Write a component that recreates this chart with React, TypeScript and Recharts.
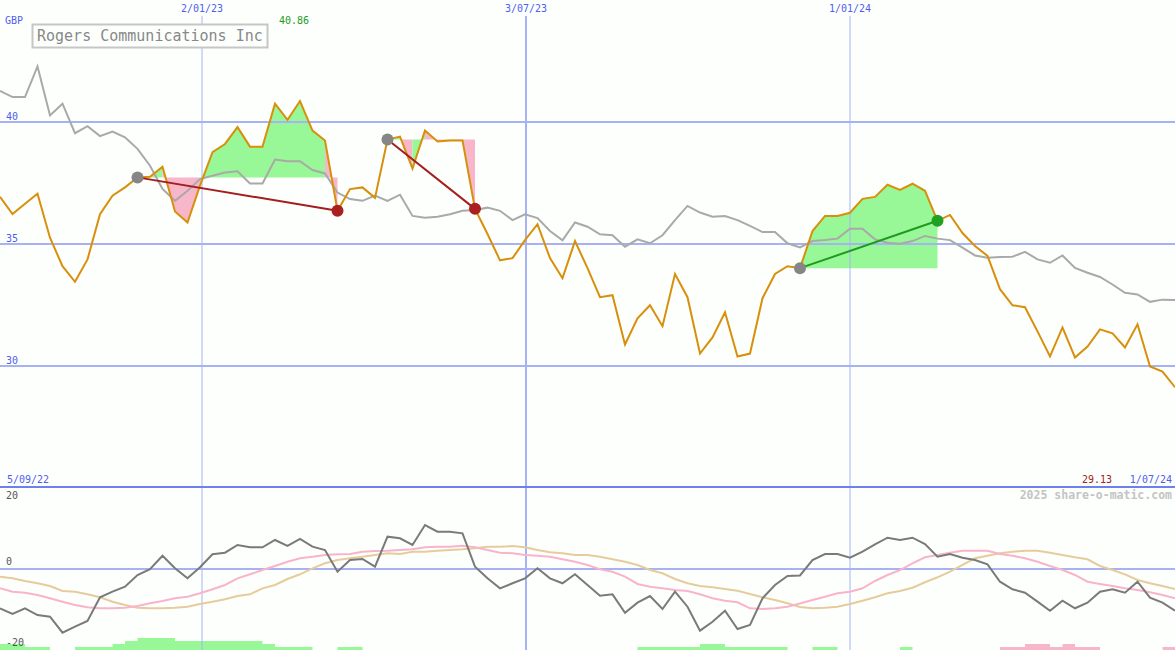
import React from "react";
import { Area, ComposedChart, Line, ReferenceDot, ReferenceLine, XAxis, YAxis } from "recharts";

// weekly closes, 5/09/22 .. 1/07/24
const price = [
  36.93, 36.23, 36.65, 37.06, 35.26, 34.09, 33.45, 34.37, 36.22, 36.98,
  37.32, 37.73, 37.76, 38.17, 36.33, 35.88, 37.39, 38.76, 39.1, 39.79,
  38.99, 38.99, 40.75, 40.09, 40.86, 39.65, 39.24, 36.36, 37.25, 37.32,
  36.89, 39.28, 39.4, 38.09, 39.65, 39.2, 39.24, 39.24, 36.44, 35.41,
  34.33, 34.42, 35.16, 35.81, 34.42, 33.6, 35.12, 34.01, 32.82, 32.9,
  30.88, 31.95, 32.49, 31.63, 33.77, 32.82, 30.51, 31.17, 32.2, 30.39,
  30.51, 32.78, 33.77, 34.09, 34.01, 35.53, 36.15, 36.15, 36.28, 36.85,
  36.93, 37.43, 37.22, 37.47, 37.18, 35.95, 36.19, 35.45, 34.92, 34.51,
  33.15, 32.49, 32.41, 31.42, 30.39, 31.58, 30.35, 30.8, 31.5, 31.34,
  30.76, 31.71, 29.98, 29.77, 29.13,
];

// relative-strength line (grey)
const relative = [
  41.27, 41.02, 41.02, 42.28, 40.27, 40.75, 39.54, 39.83, 39.42, 39.61,
  39.37, 38.9, 38.21, 37.26, 36.77, 37.18, 37.66, 37.8, 37.93, 37.98,
  37.48, 37.48, 38.46, 38.39, 38.39, 38.03, 37.89, 37.11, 36.84, 36.77,
  36.98, 36.77, 37.02, 36.15, 36.08, 36.12, 36.22, 36.36, 36.39, 36.49,
  36.36, 35.98, 36.22, 36.06, 35.53, 35.15, 35.88, 35.71, 35.4, 35.36,
  34.89, 35.19, 35.03, 35.36, 35.98, 36.56, 36.29, 36.12, 36.15, 35.98,
  35.74, 35.49, 35.49, 35.03, 34.86, 35.12, 35.16, 35.22, 35.63, 35.63,
  35.19, 35.05, 35.01, 35.12, 35.33, 35.22, 35.16, 34.85, 34.53, 34.44,
  34.47, 34.48, 34.68, 34.37, 34.23, 34.53, 34.02, 33.82, 33.65, 33.34,
  33.0, 32.93, 32.63, 32.72, 32.7,
];

const momentum = [
  -9.7, -11.11, -9.7, -11.36, -11.78, -15.73, -14.25, -12.84, -6.99, -5.6,
  -4.37, -1.48, -0.07, 3.28, 0.17, -2.3, 0.42, 3.63, 4.02, 5.93,
  5.36, 5.36, 7.16, 5.68, 7.41, 5.51, 4.69, -0.67, 2.22, 2.47,
  0.57, 7.98, 7.58, 5.93, 10.86, 9.21, 9.21, 8.81, 0.57, -2.3,
  -4.77, -3.53, -2.3, 0.17, -2.3, -3.53, -1.31, -3.95, -6.59, -6.25,
  -10.79, -8.32, -6.67, -9.88, -5.6, -9.31, -15.23, -13.01, -10.3, -14.81,
  -13.83, -7.23, -3.95, -1.73, -1.6, 2.22, 3.7, 3.7, 2.79, 4.27,
  6.1, 7.73, 7.16, 7.73, 6.17, 3.04, 3.7, 2.79, 2.22, 1.16,
  -3.14, -5.01, -5.85, -8.07, -10.3, -7.83, -9.7, -8.32, -5.6, -5.01,
  -5.85, -3.14, -7.09, -8.32, -10.3,
];

const fastAvg = [
  -4.77, -5.6, -5.85, -6.42, -7.23, -8.07, -8.89, -9.46, -9.7, -9.7,
  -9.56, -9.14, -8.47, -7.9, -7.23, -6.84, -6.0, -5.01, -3.95, -2.3,
  -1.31, -0.25, 0.74, 1.8, 2.64, 3.04, 3.46, 3.63, 3.7, 4.27,
  4.44, 4.52, 4.69, 4.86, 5.36, 5.51, 5.51, 5.75, 5.36, 4.69,
  4.02, 3.88, 3.46, 3.28, 3.04, 2.4, 1.8, 0.99, -0.07, -0.67,
  -1.9, -3.7, -4.37, -4.77, -5.19, -5.43, -6.25, -7.23, -7.83, -8.22,
  -9.7, -9.88, -9.7, -9.31, -8.52, -7.65, -6.84, -6.0, -5.6, -4.77,
  -2.96, -1.48, -0.25, 1.41, 2.89, 3.46, 4.02, 4.52, 4.52, 4.52,
  3.7, 3.28, 2.64, 1.8, 0.74, -0.25, -1.48, -3.14, -3.7, -4.2,
  -4.77, -5.19, -5.75, -6.42, -7.23,
];

const slowAvg = [
  -1.9, -2.3, -2.96, -3.53, -4.2, -5.43, -5.6, -6.25, -6.99, -8.07,
  -8.89, -9.56, -9.7, -9.7, -9.56, -9.31, -8.64, -8.07, -7.48, -6.67,
  -6.25, -4.77, -3.95, -2.47, -1.31, 0.17, 1.41, 2.22, 2.64, 3.04,
  3.46, 3.88, 3.7, 4.27, 4.27, 4.52, 4.69, 4.86, 5.11, 5.51,
  5.51, 5.68, 5.36, 4.69, 4.12, 3.88, 3.46, 3.46, 3.04, 2.4,
  1.8, 0.99, -0.25, -1.06, -2.47, -3.53, -4.2, -4.52, -4.94, -5.36,
  -6.17, -6.99, -7.65, -8.47, -9.38, -9.7, -9.56, -9.31, -8.64, -7.83,
  -6.99, -6.0, -5.43, -4.62, -3.28, -2.05, -0.67, 0.99, 2.64, 3.28,
  3.88, 4.27, 4.52, 4.52, 4.02, 3.46, 2.89, 2.4, 0.74, -0.25,
  -1.31, -2.72, -3.53, -4.2, -4.94,
];

const histUp = [
  2, 2, 1, 1, 0, 0, 1, 1, 1, 2,
  3, 4, 4, 4, 3, 3, 3, 3, 3, 3,
  3, 2, 1, 1, 1, 0, 0, 1, 1, 0,
  0, 0, 0, 0, 0, 0, 0, 0, 0, 0,
  0, 0, 0, 0, 0, 0, 0, 0, 0, 0,
  0, 1, 1, 1, 1, 1, 2, 2, 1, 1,
  1, 1, 1, 0, 0, 1, 1, 0, 0, 0,
  0, 0, 1, 0, 0, 0, 0, 0, 0, 0,
  0, 0, 0, 0, 0, 0, 0, 0, 0, 0,
  0, 0, 0, 0, 0,
];

const histDown = [
  0, 0, 0, 0, 0, 0, 0, 0, 0, 0,
  0, 0, 0, 0, 0, 0, 0, 0, 0, 0,
  0, 0, 0, 0, 0, 0, 0, 0, 0, 0,
  0, 0, 0, 0, 0, 0, 0, 0, 0, 0,
  0, 0, 0, 0, 0, 0, 0, 0, 0, 0,
  0, 0, 0, 0, 0, 0, 0, 0, 0, 0,
  0, 0, 0, 0, 0, 0, 0, 0, 0, 0,
  0, 0, 0, 0, 0, 0, 0, 0, 0, 0,
  1, 1, 2, 2, 1, 2, 1, 1, 0, 0,
  0, 0, 0, 1, 0,
];

const dateTickAt = [16.16, 42.08, 68];
const dateTickLabels = ["2/01/23", "3/07/23", "1/01/24"];
const priceTicks = [40, 35, 30];
const startLabel = "5/09/22";
const endLabel = "1/07/24";

// entry / exit week index for each trade
const trades = [
  { entry: 11, exit: 27 },
  { entry: 31, exit: 38 },
  { entry: 64, exit: 75 },
];

const W = 1175;
const TOP_H = 488;
const BOT_H = 162;
const BG = "#fdfffd";
const BLUE = "#4f60ee";
const GRID = "#a6b2f4";
const GAIN_FILL = "#98f898";
const LOSS_FILL = "#f8b6ca";
const MONO = '"DejaVu Sans Mono", "Liberation Mono", monospace';

const rows = price.map((p, k) => ({
  k,
  price: p,
  relative: relative[k],
  momentum: momentum[k],
  fastAvg: fastAvg[k],
  slowAvg: slowAvg[k],
  up: histUp[k],
  down: histDown[k],
}));

// shaded runs between price and entry level, coloured by the side each segment ends on
type Run = { from: number; to: number; level: number; gain: boolean };
const runs: Run[] = [];
trades.forEach((t) => {
  const level = price[t.entry];
  for (let k = t.entry; k < t.exit; k++) {
    const gain = price[k + 1] >= level;
    const last = runs[runs.length - 1];
    if (last && last.to === k && last.gain === gain && last.level === level) last.to = k + 1;
    else runs.push({ from: k, to: k + 1, level, gain });
  }
});

const maxPrice = Math.max(...price);
const lastPrice = price[price.length - 1];

const priceLabel = (text: string) => (props: any) => {
  const vb = props.viewBox || {};
  return (
    <text x={(vb.x ?? 0) + 6} y={(vb.y ?? 0) - 2} fill={BLUE} fontSize={10} fontFamily={MONO}>
      {text}
    </text>
  );
};

const dateLabel = (text: string) => (props: any) => {
  const vb = props.viewBox || {};
  return (
    <text x={vb.x ?? 0} y={(vb.y ?? 0) - 4} fill={BLUE} fontSize={10} fontFamily={MONO} textAnchor="middle">
      {text}
    </text>
  );
};

export default function App() {
  return (
    <div style={{ position: "absolute", left: 0, top: 0, width: W, height: TOP_H + BOT_H, background: BG, overflow: "hidden" }}>
      <div style={{ position: "absolute", left: 0, top: 0 }}>
        <ComposedChart width={W} height={TOP_H} data={rows} margin={{ top: 0, right: 0, bottom: 0, left: 0 }}>
          <XAxis type="number" dataKey="k" domain={[0, 94]} hide />
          <YAxis type="number" domain={[25, 45]} hide />
          {runs.map((r, i) => (
            <Area
              key={`run-${i}`}
              type="linear"
              dataKey={(d: any) => (d.k >= r.from && d.k <= r.to ? d.price : null)}
              baseValue={r.level}
              stroke="none"
              fill={r.gain ? GAIN_FILL : LOSS_FILL}
              fillOpacity={1}
              dot={false}
              activeDot={false}
              isAnimationActive={false}
              zIndex={100}
            />
          ))}
          {priceTicks.map((v) => (
            <ReferenceLine key={`py-${v}`} y={v} stroke={GRID} strokeWidth={2} label={priceLabel(String(v))} zIndex={150} />
          ))}
          {dateTickAt.map((x, i) => (
            <ReferenceLine
              key={`dx-${i}`}
              segment={[{ x, y: 44.34 }, { x, y: 25 }]}
              stroke={GRID}
              strokeWidth={i === 1 ? 2 : 1}
              label={dateLabel(dateTickLabels[i])}
              zIndex={150}
            />
          ))}
          <Line type="linear" dataKey="relative" stroke="#a9a9a9" strokeWidth={2} dot={false} activeDot={false} isAnimationActive={false} zIndex={400} />
          <Line type="linear" dataKey="price" stroke="#d8900c" strokeWidth={2} dot={false} activeDot={false} isAnimationActive={false} zIndex={410} />
          {trades.map((t, i) => {
            const win = price[t.exit] > price[t.entry];
            return (
              <ReferenceLine
                key={`tl-${i}`}
                segment={[{ x: t.entry, y: price[t.entry] }, { x: t.exit, y: price[t.exit] }]}
                stroke={win ? "#1f9a1f" : "#a41e1e"}
                strokeWidth={2}
                zIndex={450}
              />
            );
          })}
          {trades.map((t, i) => (
            <ReferenceDot key={`en-${i}`} x={t.entry} y={price[t.entry]} r={6} fill="#868686" stroke="none" zIndex={650} />
          ))}
          {trades.map((t, i) => {
            const win = price[t.exit] > price[t.entry];
            return (
              <ReferenceDot key={`ex-${i}`} x={t.exit} y={price[t.exit]} r={6} fill={win ? "#22a022" : "#a82020"} stroke="none" zIndex={650} />
            );
          })}
        </ComposedChart>
      </div>
      <div style={{ position: "absolute", left: 0, top: 486, width: W, height: 2, background: "#6f80ee" }} />
      <div style={{ position: "absolute", left: 0, top: TOP_H }}>
        <ComposedChart width={W} height={BOT_H} data={rows} margin={{ top: 0, right: 0, bottom: 0, left: 0 }}>
          <XAxis type="number" dataKey="k" domain={[0, 94]} hide />
          <YAxis type="number" domain={[-20, 20]} hide />
          <YAxis yAxisId="hist" type="number" domain={[0, 54]} hide />
          <Area yAxisId="hist" type="stepAfter" dataKey="up" stroke="none" fill={GAIN_FILL} fillOpacity={1} dot={false} activeDot={false} isAnimationActive={false} zIndex={100} />
          <Area yAxisId="hist" type="stepAfter" dataKey="down" stroke="none" fill={LOSS_FILL} fillOpacity={1} dot={false} activeDot={false} isAnimationActive={false} zIndex={100} />
          <ReferenceLine y={0} stroke={GRID} strokeWidth={2} zIndex={150} />
          {dateTickAt.map((x, i) => (
            <ReferenceLine key={`ldx-${i}`} x={x} stroke={GRID} strokeWidth={i === 1 ? 2 : 1} zIndex={150} />
          ))}
          <Line type="linear" dataKey="slowAvg" stroke="#e6cc9c" strokeWidth={2} dot={false} activeDot={false} isAnimationActive={false} zIndex={400} />
          <Line type="linear" dataKey="fastAvg" stroke="#f9b4ca" strokeWidth={2} dot={false} activeDot={false} isAnimationActive={false} zIndex={405} />
          <Line type="linear" dataKey="momentum" stroke="#7a7a7a" strokeWidth={2} dot={false} activeDot={false} isAnimationActive={false} zIndex={410} />
        </ComposedChart>
      </div>
      <svg width={W} height={TOP_H + BOT_H} style={{ position: "absolute", left: 0, top: 0, pointerEvents: "none" }}>
        <g fontFamily={MONO} fontSize={10}>
          <text x={5} y={24} fill={BLUE}>GBP</text>
          <text x={279} y={24} fill="#1f9a1f">{maxPrice.toFixed(2)}</text>
          <rect x={32.5} y={24.5} width={235} height={23} fill={BG} stroke="#c6c6c6" strokeWidth={2} />
          <text x={37} y={41} fill="#888888" fontSize={15}>Rogers Communications Inc</text>
          <text x={7} y={483} fill={BLUE}>{startLabel}</text>
          <text x={1112} y={483} fill="#a02020" textAnchor="end">{lastPrice.toFixed(2)}</text>
          <text x={1172} y={483} fill={BLUE} textAnchor="end">{endLabel}</text>
          <text x={1172} y={499} fill="#c4c4c4" fontSize={11.5} fontWeight="bold" textAnchor="end">2025 share-o-matic.com</text>
          <text x={6} y={499} fill="#555555">20</text>
          <text x={6} y={565} fill="#555555">0</text>
          <text x={6} y={646} fill="#555555">-20</text>
        </g>
      </svg>
    </div>
  );
}
